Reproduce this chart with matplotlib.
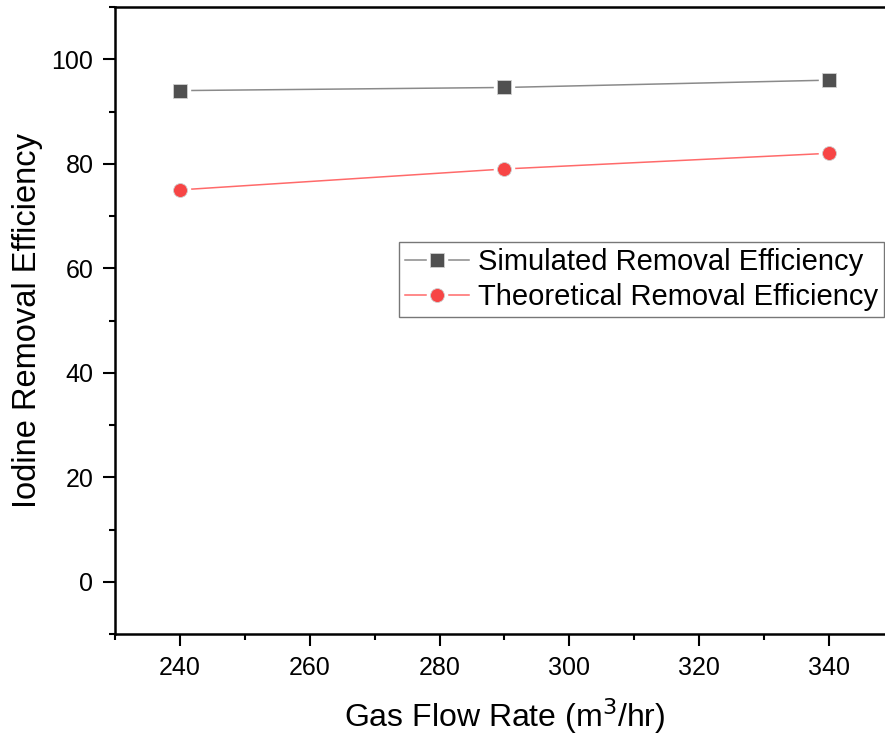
import matplotlib
matplotlib.use("Agg")
import matplotlib.pyplot as plt
from matplotlib.ticker import MultipleLocator
from matplotlib.legend_handler import HandlerTuple

flow_rate = [240, 290, 340]
simulated = [94.0, 94.6, 96.0]
theoretical = [75.0, 79.0, 82.0]

series = [
    ("Simulated Removal Efficiency", simulated, "s", "#505050", "#8a8a8a"),
    ("Theoretical Removal Efficiency", theoretical, "o", "#f74545", "#ff6a6a"),
]

plt.rcParams['font.family'] = ['Liberation Sans', 'DejaVu Sans']
plt.rcParams['font.size'] = 18

fig = plt.figure(figsize=(8.85, 7.4), dpi=100)
# right edge of the box is cut off in the original image
ax = fig.add_axes([115 / 885, 1 - 634 / 740, 779 / 885, 627 / 740])

handles = []
labels = []
for label, vals, mk, col, lcol in series:
    ln, = ax.plot(flow_rate, vals, '-', color=lcol, lw=1.1, zorder=1)
    halo, = ax.plot(flow_rate, vals, mk, ls='none', ms=14.5, mfc='white',
                    mec='white', zorder=2)
    pts, = ax.plot(flow_rate, vals, mk, ls='none', ms=10, mfc=col,
                   mec='#d0d0d0', mew=0.6, zorder=3)
    handles.append((ln, halo, pts))
    labels.append(label)

ax.set_xlim(230, 350)
ax.set_ylim(-10, 110)
ax.xaxis.set_major_locator(MultipleLocator(20))
ax.xaxis.set_minor_locator(MultipleLocator(10))
ax.yaxis.set_major_locator(MultipleLocator(20))
ax.yaxis.set_minor_locator(MultipleLocator(10))
ax.tick_params(which='major', direction='out', length=8.5, width=1.5,
               labelsize=18, pad=7)
ax.tick_params(which='minor', direction='out', length=4.5, width=1.5)
ax.tick_params(top=False, right=False)
for sp in ax.spines.values():
    sp.set_linewidth(1.8)

ax.set_xlabel("Gas Flow Rate (m$^3$/hr)", fontsize=23, labelpad=12)
ax.set_ylabel("Iodine Removal Efficiency", fontsize=23.5, labelpad=6)

leg = ax.legend(handles, labels, handler_map={tuple: HandlerTuple(ndivide=1)},
                loc='upper left', bbox_to_anchor=(0.365, 0.625),
                fontsize=21, frameon=True, fancybox=False, handlelength=2.2,
                handletextpad=0.3, borderpad=0.2, labelspacing=0.25,
                borderaxespad=0)
leg.get_frame().set_edgecolor('#555555')
leg.get_frame().set_linewidth(1.0)

fig.savefig("out.png", dpi=100)
